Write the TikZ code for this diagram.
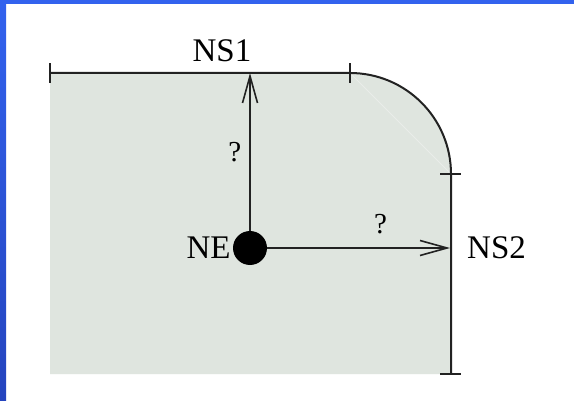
\documentclass[tikz,border=0pt]{standalone}
\usepackage{fontspec}
\setmainfont{Liberation Serif}
\usetikzlibrary{arrows.meta, positioning, calc}
\definecolor{regionfill}{HTML}{DFE5DF}
\definecolor{framblue}{HTML}{3262EE}
\definecolor{framdark}{HTML}{2444BE}
\definecolor{inkgray}{HTML}{222222}
\tikzset{
  edge/.style={draw=inkgray, line width=2pt},
  tick/.style={draw=inkgray, line width=2pt},
  arr/.style={draw=inkgray, line width=1.6pt, -{Straight Barb[length=27pt, width=15pt, line width=1.6pt]}},
  lbl/.style={inner sep=0pt, font=\fontsize{33}{38}\selectfont},
  qlbl/.style={inner sep=0pt, font=\fontsize{29}{34}\selectfont},
  dot/.style={circle, fill=black, minimum size=34pt, inner sep=0pt},
}
\begin{document}
\begin{tikzpicture}[x=1pt, y=1pt]
    \useasboundingbox (0,0) rectangle (574,400);
    \fill[white] (0,0) rectangle (574,400);
    % frame
    \fill[framblue] (0,396) rectangle (574,400);
    \shade[top color=framblue, bottom color=framdark] (0,0) rectangle (6,400);
    % region
    \fill[regionfill] (50,327) -- (350,327) arc[start angle=90, end angle=0, radius=101]
      -- (451,26) -- (50,26) -- cycle;
    \draw[white!30!regionfill, line width=0.8pt] (350,327) -- (451,226);
    \draw[edge] (50,327) -- (350,327) arc[start angle=90, end angle=0, radius=101] -- (451,26);
    % ticks
    \draw[tick] (50,317) -- (50,337);
    \draw[tick] (350,317) -- (350,337);
    \draw[tick] (440,226) -- (461,226);
    \draw[tick] (440,26) -- (461,26);
    % element and boundaries
    \node[dot] (ne) at (250,152) {};
    \coordinate (ns1) at (250,327);
    \coordinate (ns2) at (450,152);
    \draw[arr] (ne) -- node[qlbl, left=8pt, pos=0.5] (q1) {?} (ns1);
    \draw[arr] (ne) -- node[qlbl, above=13pt, pos=0.62] (q2) {?} (ns2);
    \node[lbl, left=2pt of ne] (nelbl) {NE};
    \node[lbl] (ns1lbl) at (222,349) {NS1};
    \node[lbl, right=17pt of ns2] (ns2lbl) {NS2};
\end{tikzpicture}
\end{document}
